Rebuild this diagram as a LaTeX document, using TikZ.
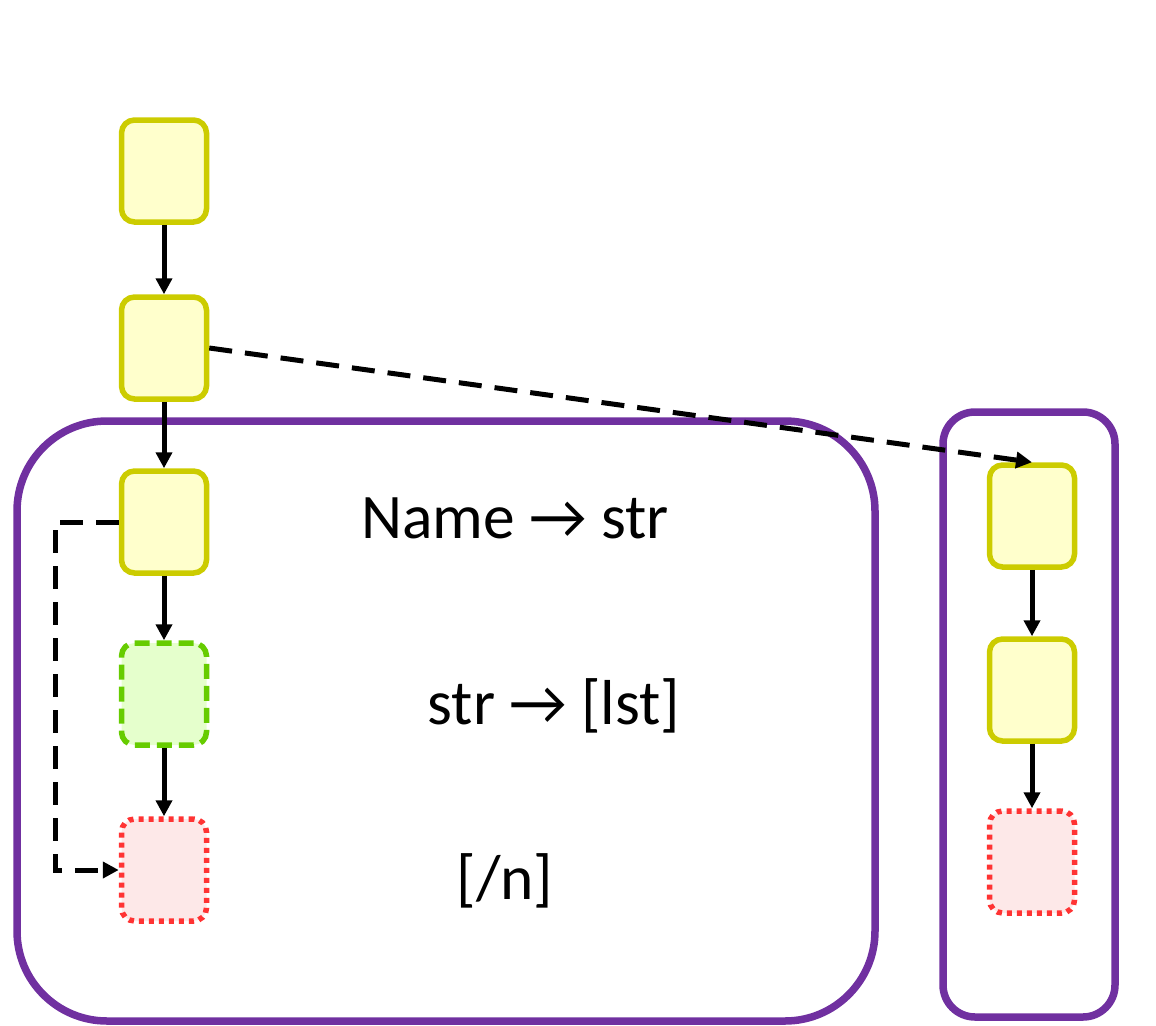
\documentclass[tikz,border=0pt]{standalone}
\usepackage{fontspec}
\setmainfont{Carlito}
\usetikzlibrary{arrows.meta}
\definecolor{ybord}{HTML}{CCCC00}
\definecolor{yfill}{HTML}{FFFFCC}
\definecolor{gbord}{HTML}{66CC00}
\definecolor{gfill}{HTML}{E5FFCC}
\definecolor{rbord}{HTML}{FF3333}
\definecolor{rfill}{HTML}{FDE8E8}
\definecolor{purp}{HTML}{7030A0}
\tikzset{
  boxbase/.style={minimum width=85pt, minimum height=102pt, rounded corners=13pt, line width=5.5pt, inner sep=0pt},
  ybox/.style={boxbase, draw=ybord, fill=yfill},
  gbox/.style={boxbase, draw=gbord, fill=gfill, dash pattern=on 15pt off 7pt},
  rbox/.style={boxbase, draw=rbord, fill=rfill, dash pattern=on 5pt off 5pt},
  arr/.style={line width=5pt, -{Triangle[length=16pt,width=16pt]}},
  darr/.style={arr, dash pattern=on 23pt off 13pt},
  frame/.style={draw=purp, line width=7.5pt},
  lbl/.style={font=\fontsize{63.5}{75}\selectfont, inner sep=0pt, anchor=base}
}
\begin{document}
\begin{tikzpicture}[x=1pt,y=-1pt]
\useasboundingbox (0,0) rectangle (1156,1025);
\draw[frame, rounded corners=90pt] (17,421) rectangle (875,1021);
\draw[frame, rounded corners=32pt] (943,412) rectangle (1115,1017);
\node[ybox] (a1) at (164,171) {};
\node[ybox] (a2) at (164,348) {};
\node[ybox] (a3) at (164,522) {};
\node[gbox] (a4) at (164,694) {};
\node[rbox] (a5) at (164,870) {};
\node[ybox] (b1) at (1032,516) {};
\node[ybox] (b2) at (1032,690) {};
\node[rbox] (b3) at (1032,862) {};
\draw[arr] (a1) -- (a2);
\draw[arr] (a2) -- (a3);
\draw[arr] (a3) -- (a4);
\draw[arr] (a4) -- (a5);
\draw[arr] (b1) -- (b2);
\draw[arr] (b2) -- (b3);
\draw[darr] (a2.east) -- (b1.north);
\coordinate (c1) at (55,522);
\coordinate (c2) at (55,870);
\draw[darr] (a3.west) -- (c1) -- (c2) -- (a5.west);
\node[lbl] (t1) at (515,538) {Name → str};
\node[lbl] (t2) at (554,724) {str → [lst]};
\node[lbl] (t3) at (505,899) {[/n]};
\end{tikzpicture}
\end{document}
